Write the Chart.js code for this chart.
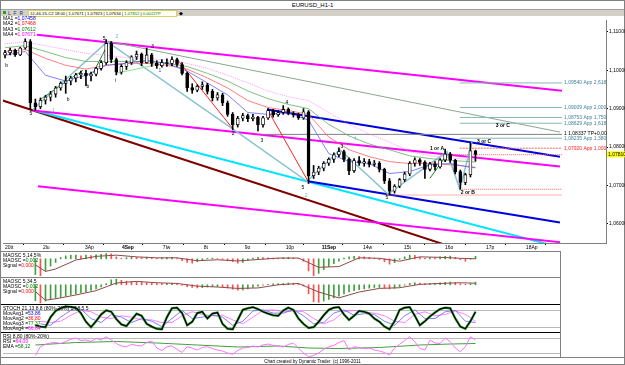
<!DOCTYPE html>
<html>
<head>
<meta charset="utf-8">
<script src="https://cdn.jsdelivr.net/npm/chart.js@4.4.1/dist/chart.umd.min.js"></script>
<style>
  html, body { margin: 0; padding: 0; background: #fff; }
  body { width: 625px; height: 365px; position: relative; overflow: hidden; font-family: "Liberation Sans", Arial, sans-serif; color: #000; }
  .a { position: absolute; }
  .t { position: absolute; font-size: 5px; line-height: 5px; white-space: nowrap; }
  canvas { position: absolute; }
  .hl { position: absolute; height: 0; }
</style>
</head>
<body>
<div class="a" style="left:0;top:0;width:623px;height:363px;border:1px solid #808080;"></div>
<div class="t" style="left:0;top:2px;width:625px;text-align:center;font-size:6px;line-height:6px;">EURUSD_H1-1</div>
<div class="a" style="left:1px;top:9px;width:623px;height:6px;background:#d4d0c8;border-top:1px solid #a0a0a0;"></div>
<div class="a" style="left:3px;top:11px;width:3px;height:3px;background:#20a020;"></div>
<div class="t" style="left:8px;top:10.5px;font-size:5px;color:#203080;">L&nbsp;&nbsp;F&nbsp;&nbsp;R</div>
<div class="t" style="left:28px;top:10px;width:146px;height:5px;border:1px solid #d8d060;background:#fffff4;font-size:4.2px;line-height:5px;padding-left:1px;">12-46-15-C2 18:00 | 1,07671 | 1,07923 | 1,07634 | <span style="color:#008000">1,07812</span> | <span style="color:#008000">0,00227P</span></div>
<div class="t" style="left:179px;top:10.5px;">&#9670;</div>

<canvas id="main" width="622" height="235" style="left:3px;top:16px;"></canvas>

<div class="t" style="left:3px;top:16px;line-height:5.3px;">
  <div>MA1 =<span style="color:#0000ff">1,07458</span></div>
  <div>MA2 =<span style="color:#ff0000">1,07468</span></div>
  <div>MA3 =<span style="color:#008000">1,07612</span></div>
  <div>MA4 =<span style="color:#ff00ff">1,07671</span></div>
</div>

<canvas id="p1" width="557" height="25" style="left:3px;top:252px;"></canvas>
<canvas id="p2" width="557" height="26" style="left:3px;top:278px;"></canvas>
<canvas id="p3" width="557" height="27" style="left:3px;top:305px;"></canvas>
<canvas id="p4" width="557" height="25" style="left:3px;top:333px;"></canvas>

<div class="hl" style="left:1px;top:251px;width:559px;border-top:1px solid #808080;"></div>
<div class="hl" style="left:1px;top:277px;width:559px;border-top:1px solid #808080;"></div>
<div class="hl" style="left:1px;top:304px;width:559px;border-top:1.5px solid #000;"></div>
<div class="hl" style="left:1px;top:332px;width:559px;border-top:1.5px solid #000;"></div>
<div class="hl" style="left:1px;top:357px;width:623px;border-top:1px solid #808080;"></div>
<div class="a" style="left:560px;top:251px;width:0;height:106px;border-left:1px solid #808080;"></div>

<div class="t" style="left:3px;top:253px;line-height:5px;">
  <div>MAOSC 5,14,5%</div>
  <div>MAOSC =<span style="color:#008000">0,002</span></div>
  <div>Signal =<span style="color:#ff0000">0,000</span></div>
</div>
<div class="t" style="left:3px;top:279px;line-height:5px;">
  <div>MAOSC 5,34,5</div>
  <div>MAOSC =<span style="color:#008000">0,002</span></div>
  <div>Signal =<span style="color:#ff0000">0,000</span></div>
</div>
<div class="t" style="left:3px;top:306px;line-height:5px;">
  <div>STOCH 21,13,8,8 (80%-20%) 14,8,5,5</div>
  <div>MovAvg1 =<span style="color:#0000ff">53,86</span></div>
  <div>MovAvg2 =<span style="color:#ff0000">36,80</span></div>
  <div>MovAvg3 =<span style="color:#008000">77,37</span></div>
  <div>MovAvg4 =<span style="color:#ff00ff">66,84</span></div>
</div>
<div class="t" style="left:3px;top:334px;line-height:5px;">
  <div>RSI 8,80 (80%-20%)</div>
  <div>RSI =<span style="color:#ff00ff">64,00</span></div>
  <div>EMA =<span style="color:#008000">58,12</span></div>
</div>
<div class="t" style="left:0;top:359px;width:625px;text-align:center;font-size:4.5px;">Chart created by Dynamic Trader&nbsp;&nbsp;(c) 1996-2011</div>

<script>
// EURUSD H1 candles (one candle per bar index)
const opens = [1.1040,1.1046,1.1052,1.1040,1.1058,1.1075,1.0915,1.0905,1.0922,1.0930,
  1.0938,1.0954,1.0966,1.0972,1.0980,1.0988,1.0992,1.0985,1.0990,1.1005,
  1.1020,1.1070,1.1028,1.0995,1.1010,1.1020,1.1035,1.1042,1.1020,1.1040,
  1.1018,1.1012,1.1020,1.1018,1.1028,1.1015,1.0992,1.0955,1.0948,1.0958,
  1.0962,1.0945,1.0928,1.0936,1.0915,1.0885,1.0858,1.0875,1.0882,1.0874,
  1.0878,1.0858,1.0876,1.0895,1.0884,1.0890,1.0898,1.0888,1.0884,1.0876,
  1.0892,1.0725,1.0735,1.0745,1.0758,1.0768,1.0780,1.0788,1.0768,1.0738,
  1.0765,1.0758,1.0762,1.0755,1.0758,1.0742,1.0712,1.0685,1.0698,1.0715,
  1.0730,1.0758,1.0767,1.0760,1.0742,1.0756,1.0748,1.0766,1.0782,1.0766,
  1.0736,1.0708,1.0728,1.0790];
const highs = [1.1052,1.1058,1.1055,1.1060,1.1082,1.1080,1.0925,1.0928,1.0935,1.0945,
  1.0958,1.0970,1.0985,1.0984,1.0992,1.0998,1.1000,1.0995,1.1008,1.1025,
  1.1080,1.1075,1.1032,1.1015,1.1025,1.1038,1.1050,1.1045,1.1058,1.1044,
  1.1025,1.1028,1.1030,1.1035,1.1032,1.1020,1.0995,1.0965,1.0962,1.0970,
  1.0966,1.0950,1.0942,1.0940,1.0920,1.0890,1.0880,1.0888,1.0886,1.0885,
  1.0880,1.0880,1.0900,1.0898,1.0895,1.0908,1.0902,1.0892,1.0888,1.0900,
  1.0895,1.0752,1.0750,1.0762,1.0772,1.0785,1.0798,1.0792,1.0772,1.0770,
  1.0775,1.0770,1.0768,1.0765,1.0762,1.0745,1.0718,1.0702,1.0718,1.0735,
  1.0762,1.0772,1.0770,1.0764,1.0760,1.0762,1.0770,1.0795,1.0786,1.0768,
  1.0740,1.0732,1.0810,1.0792];
const lows = [1.1032,1.1040,1.1036,1.1038,1.1055,1.0898,1.0895,1.0900,1.0912,1.0920,
  1.0930,1.0948,1.0940,1.0962,1.0970,1.0978,1.0960,1.0972,1.0985,1.1000,
  1.1015,1.1020,1.0988,1.0990,1.1002,1.1015,1.1028,1.1012,1.1018,1.1010,
  1.1005,1.1008,1.1010,1.1012,1.1010,1.0988,1.0945,1.0940,1.0944,1.0950,
  1.0938,1.0920,1.0922,1.0908,1.0880,1.0845,1.0852,1.0868,1.0866,1.0868,
  1.0842,1.0852,1.0872,1.0878,1.0880,1.0885,1.0884,1.0878,1.0872,1.0872,
  1.0705,1.0718,1.0728,1.0738,1.0752,1.0760,1.0774,1.0762,1.0728,1.0734,
  1.0752,1.0750,1.0748,1.0750,1.0735,1.0705,1.0675,1.0680,1.0694,1.0710,
  1.0725,1.0750,1.0752,1.0718,1.0738,1.0740,1.0745,1.0762,1.0760,1.0730,
  1.0690,1.0702,1.0722,1.0763];
const closes = [1.1046,1.1052,1.1040,1.1058,1.1075,1.0915,1.0905,1.0922,1.0930,1.0938,
  1.0954,1.0966,1.0972,1.0980,1.0988,1.0992,1.0985,1.0990,1.1005,1.1020,
  1.1070,1.1028,1.0995,1.1010,1.1020,1.1035,1.1042,1.1020,1.1040,1.1018,
  1.1012,1.1020,1.1018,1.1028,1.1015,1.0992,1.0955,1.0948,1.0958,1.0962,
  1.0945,1.0928,1.0936,1.0915,1.0885,1.0858,1.0875,1.0882,1.0874,1.0878,
  1.0858,1.0876,1.0895,1.0884,1.0890,1.0898,1.0888,1.0884,1.0876,1.0892,
  1.0725,1.0735,1.0745,1.0758,1.0768,1.0780,1.0788,1.0768,1.0738,1.0765,
  1.0758,1.0762,1.0755,1.0758,1.0742,1.0712,1.0685,1.0698,1.0715,1.0730,
  1.0758,1.0767,1.0760,1.0742,1.0756,1.0748,1.0766,1.0782,1.0766,1.0736,
  1.0708,1.0728,1.0790,1.0781];

// moving averages, read at every 4th bar
const maIdx = [0,4,8,12,16,20,24,28,32,36,40,44,48,52,56,60,64,68,72,76,80,84,88,92,93];
const ma1 = [1.1039,1.1049,1.0987,1.0972,1.0987,1.1013,1.1018,1.1026,1.1018,1.0998,1.0967,1.0936,1.0890,1.0885,1.0890,1.0870,1.0783,1.0762,1.0757,1.0731,1.0736,1.0754,1.0757,1.0747,1.0746];
const ma2 = [1.1049,1.1054,1.1031,1.1013,1.1003,1.1013,1.1018,1.1018,1.1013,1.1003,1.0980,1.0954,1.0921,1.0903,1.0895,1.0885,1.0826,1.0793,1.0775,1.0762,1.0757,1.0757,1.0754,1.0749,1.0747];
const ma3 = [1.1059,1.1064,1.1049,1.1033,1.1023,1.1023,1.1023,1.1023,1.1018,1.1010,1.0992,1.0972,1.0946,1.0926,1.0911,1.0900,1.0859,1.0829,1.0808,1.0793,1.0777,1.0770,1.0765,1.0762,1.0761];
const ma4 = [1.1069,1.1074,1.1064,1.1054,1.1044,1.1039,1.1033,1.1031,1.1026,1.1018,1.1005,1.0987,1.0967,1.0946,1.0931,1.0921,1.0890,1.0859,1.0834,1.0813,1.0788,1.0777,1.0772,1.0767,1.0767];

// drawn channels and wave lines as [bar, price] points
const magentaTop = [[6.3,1.10923],[110.1,1.09464]];
const magentaMid = [[5.5,1.08952],[109.7,1.07493]];
const magentaLow = [[6.5,1.06981],[109.7,1.05522]];
const maroonLine = [[-1,1.09234],[92,1.0524]];
const cyanLine = [[5.9,1.08952],[111.7,1.0532]];
const blueUpper = [[51.8,1.08978],[109.7,1.07749]];
const blueLower = [[59.9,1.07109],[109.7,1.06034]];
const greenLong = [[19.8,1.10770],[109.7,1.08389]];
const tealWave = [[5.5,1.08978],[20.2,1.10744],[44.5,1.08517],[59.7,1.07109],[66.2,1.07928],[75.7,1.06776],[87.35,1.07877],[89.9,1.06904],[92.3,1.08133]];
const redWave1 = [[34.2,1.10259],[45.1,1.08466]];
const redWave2 = [[52,1.08952],[59.9,1.07109]];
const greenWave1 = [[6.9,1.09234],[15.4,1.10002]];
const greenWave2 = [[17.4,1.09925],[20.2,1.10642]];
const greenWave3 = [[22.1,1.09925],[34,1.10258]];
const greenWave4 = [[84,1.07186],[87.35,1.07800]];

// projection levels at the right
const fibStart = 89.9, fibEnd = 110.1;
const fibPrices = [1.0967, 1.0903, 1.0877, 1.0862, 1.0823];
const fibLabels = ['1,09540 App 2,618', '1,09009 App 2,000', '1,08753 App 1,750', '1,08629 App 1,618', '1,08235 App 1,380'];
const tpPrice = 1.0833, tpStart = 50.8, tpLabel = '1 1,08337 TP+0,00';
const appPrice = 1.0797, appLabel = '1,07920 App 1,000';
const redLevels = [1.0780, 1.0690, 1.0675];
const redLevelStart = [87.4, 89.9, 75];

// wave count labels
const waveText = ['b','5','1','b','b','5','2','i','3','1','2','3','4','5','2','3','4','5','1 or A','2 or B','3 or C','3 or C'];
const waveIdx = [0.3,5.1,9.5,12.5,16.4,19.6,22.1,21.9,29.2,30.6,45.1,50.8,55.7,58.9,59.5,66.6,69.2,75.5,85.4,91.5,94.7,98.4];
const wavePrice = [1.1013,1.0888,1.0895,1.0923,1.0957,1.1082,1.1087,1.0972,1.1062,1.1000,1.0834,1.0818,1.0916,1.0693,1.0673,1.0800,1.0821,1.0668,1.0795,1.0680,1.0813,1.0857];
const waveTeal = [2, 6, 14, 16];
const waveBlue = [9];

// axes
const yTicks = [1.06, 1.07, 1.08, 1.09, 1.10, 1.11];
const timeIdx = [0,7.5,15.8,23.1,31.2,39.3,47.4,55.5,62.6,70.75,78.85,86.96,95.06,102.96];
const timeLabels = ['20tt','2lu','3Ap','4Sep','7lw','8t','9o','10p','11Sep','14w','15t','16o','17p','18Ap'];
const boldTime = [3, 8];

// indicators, one value per bar from bar 6 to bar 93
const IND_START = 6;
const hist1 = [-6.5,-7,-5,-3,-1.5,0.5,1.2,1.5,1.5,1.2,
  1.5,1.3,1.6,1.8,2.2,2.0,0.8,0.2,0.5,0.8,
  0.6,0.5,0.7,0.4,0.2,0.3,0.5,0.6,0.1,-0.8,
  -1.5,-1.8,-1.2,-0.4,0.2,0.3,0.1,-0.3,-0.8,-1.2,
  -1.8,-1.5,-0.6,0.3,0.6,0.5,0.4,0.3,0.2,0.5,
  0.6,0.4,0.1,-1,-5,-7,-6,-4.5,-3.2,-2,
  -1,0.3,0.8,1.0,0.9,0.8,0.6,0.2,-0.4,-1.2,
  -2.2,-1.6,-0.3,0.8,1.5,1.4,0.6,0.2,0.5,0.4,
  0.8,1.0,1.1,0.6,-0.4,-1.0,-0.2,1.0]; // x0.001
const hist2 = [-7,-8,-7.2,-6.5,-6,-5.5,-5,-4.5,-4,-3.5,
  -3,-2.5,-1.8,-1,0.5,2.2,2.5,2.0,1.6,1.5,
  1.4,1.2,1.0,0.8,0.6,0.5,0.6,0.6,0.3,-0.3,
  -0.8,-1.2,-1.4,-1.3,-1.0,-0.8,-0.8,-1.0,-1.4,-2.0,
  -2.4,-2.3,-1.8,-1.2,-0.6,-0.2,0.2,0.4,0.5,0.6,
  0.8,0.7,0.4,-0.5,-4,-7.5,-7.8,-7.2,-6.5,-5.8,
  -5,-4,-3.2,-2.6,-2.2,-1.8,-1.5,-1.2,-1.2,-1.4,
  -1.8,-1.6,-0.9,-0.2,0.6,0.9,0.7,0.5,0.5,0.6,
  0.9,1.1,1.2,1.0,0.5,0.2,0.5,1.2]; // x0.001
const sigIdx = [6,8,10,14,18,22,26,30,34,38,42,46,50,54,58,62,66,70,74,78,82,86,90,93];
const signal1 = [-2.5,-5.2,-4.2,-0.5,1.0,1.5,0.8,0.4,0.4,-0.8,-0.4,-0.9,-0.3,0.3,0.3,-3.5,-3.2,0.4,0.2,-1.0,0.8,0.6,0.2,0.0];
const signal2 = [-3,-6.8,-6.2,-4.5,-2.6,0.8,1.5,0.9,0.6,-0.6,-1.0,-1.6,-1.4,0.0,0.6,-3.2,-5.8,-3.2,-1.6,-1.3,0.2,0.6,0.9,0.7];
const stochK = [25,20,18,55,78,88,95,93,90,70,
  38,18,40,65,80,75,48,28,22,45,
  68,60,30,20,12,10,55,88,90,70,
  25,38,70,75,50,68,72,30,12,10,
  45,82,88,92,85,75,68,62,60,80,
  90,82,50,30,15,18,38,62,82,90,
  92,65,45,60,78,75,68,50,38,20,
  10,40,82,90,92,60,25,40,58,72,
  85,90,88,50,20,12,40,75];
// slower stochastic averages, read at every 2nd bar from bar 7
const stAvgStart = 7;
const stAvg1 = [30,25,55,80,85,50,35,65,55,35,50,40,20,50,80,50,55,62,55,25,40,78,82,70,70,82,60,30,35,70,82,62,68,65,40,25,60,82,50,50,75,80,40,35];
const stAvg2 = [40,35,40,62,80,75,55,50,60,55,45,45,35,35,60,75,65,60,62,45,30,55,80,82,75,78,75,50,30,45,75,80,72,70,60,40,35,65,75,60,65,78,65,40];
const rsi = [10,45,55,60,62,58,66,75,80,70,
  72,66,78,72,85,72,58,48,45,55,
  50,48,62,68,40,30,45,48,35,22,
  45,40,32,42,45,38,32,28,20,15,
  30,40,42,48,44,52,56,50,48,44,
  54,60,40,20,5,10,20,35,45,50,
  62,70,32,45,42,38,40,32,28,22,
  12,40,55,70,85,65,38,32,72,60,
  58,80,65,40,25,45,85,72];
const emaIdx = [6,14,22,30,38,46,54,60,66,74,82,88,93];
const ema = [52,62,66,60,52,44,48,40,38,42,52,56,58];

const X_MIN = -0.4, MAIN_X_MAX = 118.8, PANEL_X_MAX = 109.7;
const FONT = '"Liberation Sans", Arial, sans-serif';
const fmt = v => v.toFixed(5).replace('.', ',');
const pts = arr => arr.map(p => ({ x: p[0], y: p[1] }));
const line = (data, color, width, dash) => ({
  type: 'line', data, borderColor: color, borderWidth: width, borderDash: dash || [],
  pointRadius: 0, fill: false, tension: 0
});

const hLines = {
  id: 'hLines',
  beforeDatasetsDraw(chart, args, opts) {
    const { ctx, chartArea: a, scales: { y } } = chart;
    ctx.save();
    ctx.strokeStyle = '#b8b8b8';
    ctx.lineWidth = 1;
    (opts.levels || []).forEach(v => {
      const py = Math.round(y.getPixelForValue(v)) + 0.5;
      ctx.beginPath(); ctx.moveTo(a.left, py); ctx.lineTo(a.right, py); ctx.stroke();
    });
    ctx.restore();
  }
};

const overlay = {
  id: 'overlay',
  afterDatasetsDraw(chart) {
    const { ctx, chartArea: a, scales: { x, y } } = chart;
    ctx.save();
    ctx.font = '5px ' + FONT;
    ctx.textBaseline = 'middle';
    const lx = x.getPixelForValue(fibEnd) + 2;
    fibPrices.forEach((p, i) => {
      ctx.fillStyle = '#3f7f9f';
      ctx.fillText(fibLabels[i], lx, y.getPixelForValue(p));
    });
    ctx.fillStyle = '#000';
    ctx.fillText(tpLabel, lx, y.getPixelForValue(tpPrice) - 1);
    ctx.fillStyle = '#ff2020';
    ctx.fillText(appLabel, lx, y.getPixelForValue(appPrice));

    ctx.textAlign = 'center';
    waveText.forEach((t, i) => {
      ctx.fillStyle = waveTeal.includes(i) ? '#60b8c8' : waveBlue.includes(i) ? '#4040ff' : '#000';
      ctx.font = (t.length > 1 ? 'bold 5px ' : '5px ') + FONT;
      ctx.fillText(t, x.getPixelForValue(waveIdx[i]), y.getPixelForValue(wavePrice[i]));
    });

    const last = closes[closes.length - 1];
    const py = y.getPixelForValue(last);
    ctx.fillStyle = '#ffff00';
    ctx.fillRect(a.right + 1, py - 3, 18, 6);
    ctx.fillStyle = '#000';
    ctx.textAlign = 'left';
    ctx.font = '5px ' + FONT;
    ctx.fillText(fmt(last), a.right + 2, py);
    ctx.restore();
  }
};

const bars = closes.map((_, i) => i);
const maPts = vals => vals.map((v, i) => ({ x: maIdx[i], y: v }));
const fibSets = fibPrices.map(p => line(pts([[fibStart, p], [fibEnd, p]]), '#88b8b8', 1));
const redSets = redLevels.map((p, i) => line(pts([[redLevelStart[i], p], [fibEnd, p]]), '#ff6060', 1, [1, 1]));

new Chart(document.getElementById('main'), {
  type: 'bar',
  data: {
    datasets: [
      { type: 'bar', data: bars.map(i => ({ x: i, y: [opens[i], closes[i]] })),
        backgroundColor: bars.map(i => closes[i] >= opens[i] ? '#ffffff' : '#000000'),
        borderColor: '#000', borderWidth: 0.8, borderSkipped: false, barThickness: 3, grouped: false },
      { type: 'bar', data: bars.map(i => ({ x: i, y: [lows[i], highs[i]] })),
        backgroundColor: '#000', barThickness: 1, grouped: false },
      line(maPts(ma1), '#6060ff', 0.8),
      line(maPts(ma2), '#ff6060', 0.8),
      line(maPts(ma3), '#60b060', 0.8),
      line(maPts(ma4), '#ff80ff', 0.8, [1, 1]),
      line(pts(greenWave1), '#40a040', 1),
      line(pts(greenWave2), '#208020', 1),
      line(pts(greenWave3), '#90e090', 1),
      line(pts(greenWave4), '#208020', 1),
      line(pts(redWave1), '#ff2020', 1),
      line(pts(redWave2), '#ff2020', 1),
      line(pts(tealWave), '#88c4d0', 1.5),
      ...fibSets,
      line(pts([[fibStart, appPrice], [fibEnd, appPrice]]), '#ff6060', 1, [2, 1]),
      ...redSets,
      line(pts([[tpStart, tpPrice], [fibEnd, tpPrice]]), '#808080', 1),
      line(pts(greenLong), '#88a888', 1),
      line(pts(blueUpper), '#0000e0', 2),
      line(pts(blueLower), '#0000e0', 2),
      line(pts(magentaTop), '#ff00ff', 2),
      line(pts(magentaMid), '#ff00ff', 2),
      line(pts(magentaLow), '#ff00ff', 2),
      line(pts(cyanLine), '#00e4ff', 2),
      line(pts(maroonLine), '#800000', 2)
    ]
  },
  options: {
    responsive: false, animation: false, events: [],
    layout: { padding: 0 },
    plugins: { legend: { display: false }, tooltip: { enabled: false } },
    scales: {
      x: {
        type: 'linear', min: X_MIN, max: MAIN_X_MAX, offset: false,
        afterBuildTicks: s => { s.ticks = timeIdx.map(v => ({ value: v })); },
        afterFit: s => { s.height = 8; },
        ticks: {
          autoSkip: false, maxRotation: 0, align: 'start', padding: 0, color: '#000',
          font: c => ({ size: 5, family: FONT, weight: boldTime.includes(c.index) ? 'bold' : 'normal' }),
          callback: (v, i) => timeLabels[i]
        },
        grid: { drawOnChartArea: false, tickLength: 2, color: '#000' },
        border: { color: '#808080' }
      },
      y: {
        position: 'right', min: 1.0550, max: 1.1131,
        afterBuildTicks: s => { s.ticks = yTicks.map(v => ({ value: v })); },
        afterFit: s => { s.width = 19; },
        ticks: { color: '#000', padding: 1, font: { size: 5, family: FONT }, callback: v => fmt(v) },
        grid: { drawOnChartArea: false, tickLength: 2, color: '#000' },
        border: { color: '#808080' }
      }
    }
  },
  plugins: [overlay]
});

function panel(id, datasets, ymin, ymax, levels) {
  return new Chart(document.getElementById(id), {
    type: 'bar',
    data: { datasets },
    options: {
      responsive: false, animation: false, events: [],
      layout: { padding: 0 },
      plugins: { legend: { display: false }, tooltip: { enabled: false }, hLines: { levels } },
      scales: {
        x: { type: 'linear', display: false, min: X_MIN, max: PANEL_X_MAX, offset: false },
        y: { display: false, min: ymin, max: ymax }
      }
    },
    plugins: [hLines]
  });
}

const indPts = vals => vals.map((v, i) => ({ x: IND_START + i, y: v }));
const histColors = vals => vals.map((v, i) => (i > 0 && v < vals[i - 1]) ? '#ff5050' : '#40a040');
const sigPts = vals => vals.map((v, i) => ({ x: sigIdx[i], y: v }));
const stPts = vals => vals.map((v, i) => ({ x: stAvgStart + 2 * i, y: v }));

panel('p1', [
  line(sigPts(signal1), '#904848', 1),
  { type: 'bar', data: indPts(hist1), backgroundColor: histColors(hist1), barThickness: 1, grouped: false }
], -7.5, 2.8, []);

panel('p2', [
  line(sigPts(signal2), '#904848', 1),
  { type: 'bar', data: indPts(hist2), backgroundColor: histColors(hist2), barThickness: 1, grouped: false }
], -8.5, 3.0, []);

panel('p3', [
  line(indPts(stochK), '#000000', 1.2),
  line(indPts(stochK), '#30a030', 2.4),
  line(stPts(stAvg1), '#6060ff', 0.8),
  line(stPts(stAvg2), '#ff60ff', 0.8)
], 0, 100, [80, 20]);

panel('p4', [
  line(indPts(rsi), '#ff70ff', 1),
  line(emaIdx.map((x, i) => ({ x, y: ema[i] })), '#40a040', 1)
], 0, 100, [80, 20]);
</script>
</body>
</html>
